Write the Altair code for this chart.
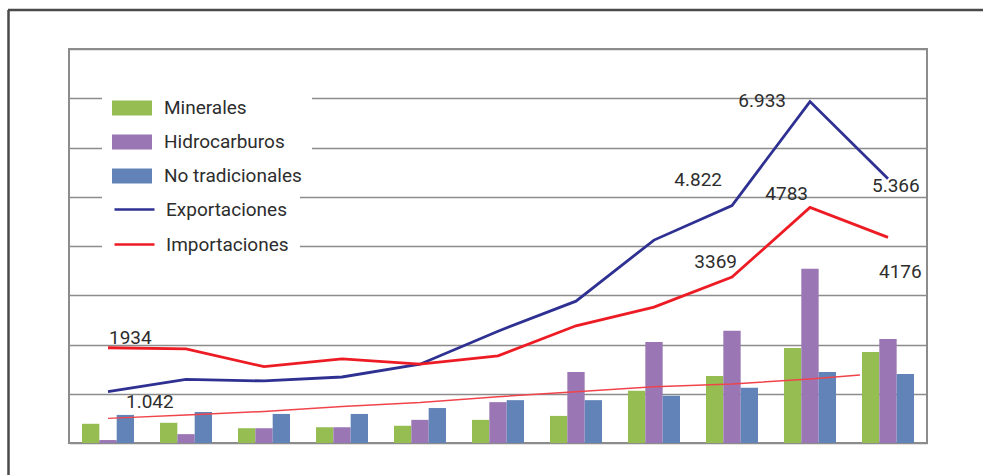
import altair as alt
import pandas as pd

# ---- data (millions of US$) ----
years = [1999, 2000, 2001, 2002, 2003, 2004, 2005, 2006, 2007, 2008, 2009]
minerales = [390, 410, 300, 320, 350, 470, 550, 1060, 1360, 1930, 1850]
hidrocarburos = [60, 180, 300, 320, 470, 830, 1440, 2050, 2280, 3540, 2110]
no_tradicionales = [570, 630, 590, 590, 710, 870, 870, 960, 1120, 1440, 1400]
exportaciones = [1042, 1290, 1260, 1340, 1600, 2270, 2880, 4120, 4822, 6933, 5366]
importaciones = [1934, 1910, 1550, 1710, 1600, 1770, 2380, 2760, 3369, 4783, 4176]
tendencia_x = [0, 1, 2, 3, 4, 5, 6, 7, 8, 9, 9.64]
tendencia = [500, 570, 640, 740, 820, 940, 1040, 1140, 1200, 1300, 1380]

bar_series = ["Minerales", "Hidrocarburos", "No tradicionales"]
bar_colors = ["#95bd52", "#9a77b4", "#6283b8"]
line_series = ["Exportaciones", "Importaciones"]
line_colors = ["#2e3192", "#ed1c24"]

FONT = "Liberation Sans Narrow, Roboto, sans-serif"
FS = 19
TXT = "#2d2d2d"
GRID = "#8c8c8c"

bars_df = pd.DataFrame(
    [{"anio": str(y), "serie": s, "valor": v}
     for s, vals in zip(bar_series, [minerales, hidrocarburos, no_tradicionales])
     for y, v in zip(years, vals)]
)
lines_df = pd.DataFrame(
    [{"i": i, "serie": s, "valor": v}
     for s, vals in zip(line_series, [exportaciones, importaciones])
     for i, v in enumerate(vals)]
)
trend_df = pd.DataFrame({"i": tendencia_x, "valor": tendencia})

yscale = alt.Scale(domain=[0, 8000], nice=False, zero=True)
yaxis = alt.Axis(values=list(range(0, 8001, 1000)), labels=False,
                 ticks=False, domain=False, title=None, grid=True,
                 gridColor=GRID, gridWidth=1.5, gridOpacity=1)
xq = alt.Scale(domain=[-0.5, 10.5], nice=False, zero=False)


def Y():
    return alt.Y("valor:Q", scale=yscale, axis=yaxis)


bars = alt.Chart(bars_df).mark_bar().encode(
    x=alt.X("anio:N", axis=None,
            scale=alt.Scale(paddingInner=0.333, paddingOuter=0.1667)),
    xOffset=alt.XOffset("serie:N", sort=bar_series, scale=alt.Scale(paddingInner=0)),
    y=Y(),
    fill=alt.Fill("serie:N", sort=bar_series,
                  scale=alt.Scale(domain=bar_series, range=bar_colors),
                  legend=alt.Legend(orient="none", legendX=33, legendY=39,
                                    title=None,
                                    symbolType="M-1,-0.75H3V0.75H-1Z",
                                    symbolSize=400, symbolStrokeWidth=0,
                                    labelOffset=32, labelFont=FONT,
                                    labelFontSize=FS, labelColor=TXT,
                                    rowPadding=14, fillColor="white",
                                    padding=10, labelLimit=300)),
)

trend = alt.Chart(trend_df).mark_line(color="#f0444b", strokeWidth=1.5).encode(
    x=alt.X("i:Q", scale=xq, axis=None),
    y=Y(),
)

lines = alt.Chart(lines_df).mark_line(strokeWidth=2.8).encode(
    x=alt.X("i:Q", scale=xq, axis=None),
    y=Y(),
    stroke=alt.Stroke("serie:N", sort=line_series,
                      scale=alt.Scale(domain=line_series, range=line_colors),
                      legend=alt.Legend(orient="none", legendX=33, legendY=138,
                                        title=None, symbolType="M-1,0H3",
                                        symbolSize=400, symbolStrokeWidth=2.5,
                                        labelOffset=30, labelFont=FONT,
                                        labelFontSize=FS, labelColor=TXT,
                                        labelExpr="datum.label + '\u00a0\u00a0\u00a0'",
                                        rowPadding=13, fillColor="white",
                                        padding=11, labelLimit=300)),
)

# value labels: (series values, index, text format, align, dx, dy)
def fmt_dot(v):
    return f"{v:,}".replace(",", ".")

label_specs = [
    (exportaciones, 0, fmt_dot, "left", 18, 16),
    (exportaciones, 8, fmt_dot, "right", -10, -20),
    (exportaciones, 9, fmt_dot, "right", -24, 5),
    (exportaciones, 10, fmt_dot, "left", -16, 13),
    (importaciones, 0, str, "left", 1, -4),
    (importaciones, 8, str, "right", 5, -9),
    (importaciones, 9, str, "right", -2, -7),
    (importaciones, 10, str, "left", -9, 41),
]
label_layers = []
for vals, i, f, al, dx, dy in label_specs:
    d = pd.DataFrame({"i": [i], "valor": [vals[i]], "txt": [f(vals[i])]})
    label_layers.append(
        alt.Chart(d).mark_text(align=al, baseline="alphabetic", dx=dx, dy=dy,
                               font=FONT, fontSize=FS, color=TXT).encode(
            x=alt.X("i:Q", scale=xq, axis=None),
            y=Y(),
            text="txt:N",
        )
    )

# outer frame (decoration)
one = pd.DataFrame({"a": [0]})
frame_top = alt.Chart(one).mark_rule(color="#4a4a4a", strokeWidth=2.5).encode(
    x=alt.value(-61), x2=alt.value(930), y=alt.value(-39))
frame_left = alt.Chart(one).mark_rule(color="#4a4a4a", strokeWidth=2.5).encode(
    x=alt.value(-60.5), y=alt.value(-39), y2=alt.value(440))

chart = alt.layer(
    bars, trend, lines, *label_layers, frame_top, frame_left
).resolve_scale(
    x="independent", fill="independent", stroke="independent"
).properties(
    width=858, height=394,
    autosize=alt.AutoSizeParams(type="none"),
    padding={"left": 69, "top": 49, "right": 56, "bottom": 32},
    background="white",
).configure_view(
    stroke=GRID, strokeWidth=2
)

chart.save("out.html", embed_options={"renderer": "svg", "actions": False})
